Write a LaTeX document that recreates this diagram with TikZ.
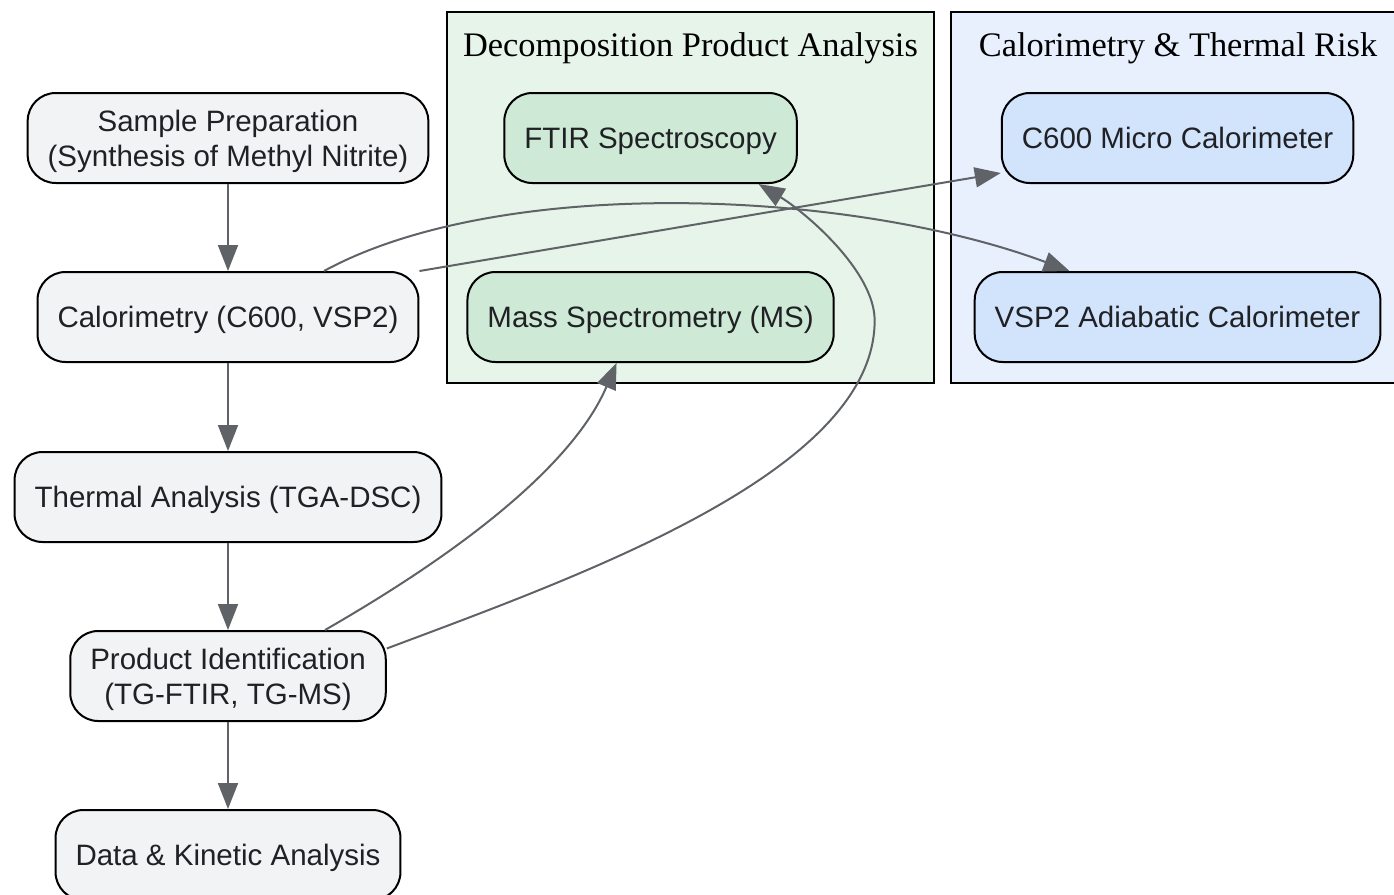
\documentclass[tikz,border=0pt]{standalone}
\usepackage{fontspec}
\setmainfont{Liberation Serif}
\newfontfamily\boxfont{Liberation Sans}
\usepackage{xcolor}
\usepackage{tikz}
\usetikzlibrary{positioning}
\usetikzlibrary{fit}
\usetikzlibrary{backgrounds}
\usetikzlibrary{arrows.meta}

\definecolor{ink}{HTML}{202124}
\definecolor{edgegray}{HTML}{5F6368}
\definecolor{stepfill}{HTML}{F1F3F4}
\definecolor{greenbg}{HTML}{E6F4EA}
\definecolor{greenfill}{HTML}{CEEAD6}
\definecolor{bluebg}{HTML}{E8F0FE}
\definecolor{bluefill}{HTML}{D2E3FC}
\newcommand{\linelift}{\rule{0pt}{13.75pt}}

\begin{document}
\begin{tikzpicture}[x=0.5pt, y=-0.5pt,
						node distance = 43.5pt,
						box/.style={draw, line width=1pt, rounded corners=14pt,
							fill=stepfill, text=ink, align=center,
							font=\boxfont\fontsize{14.75pt}{17.5pt}\selectfont,
							inner xsep=10pt, minimum height=45pt},
						oneline/.style={box, text height=13.6pt, text depth=3.1pt},
						title/.style={inner sep=0pt, anchor=base, text=black,
							font=\fontsize{17.2pt}{20pt}\selectfont},
						cluster/.style={draw, line width=1pt, inner xsep=8pt, inner ysep=10pt},
						flow/.style={draw=edgegray, line width=1pt,
							-{Triangle[length=13pt, width=10pt]}}]
		\useasboundingbox (0,0) rectangle (1394,895);
		\node [box] (sample) at (228,138) {\linelift Sample Preparation\\(Synthesis of Methyl Nitrite)};
		\node [oneline, below=of sample] (calor) {Calorimetry (C600, VSP2)};
		\node [oneline, below=44pt of calor] (thermal) {Thermal Analysis (TGA-DSC)};
		\node [box, below=of thermal] (prodid) {\linelift Product Identification\\(TG-FTIR, TG-MS)};
		\node [oneline, below=of prodid] (data) {Data \& Kinetic Analysis};
		\node [oneline, fill=greenfill, right=37pt of sample] (ftir) {FTIR Spectroscopy};
		\node [oneline, fill=greenfill, below=of ftir] (ms) {Mass Spectrometry (MS)};
		\node [oneline, fill=bluefill, right=101.5pt of ftir] (c600) {C600 Micro Calorimeter};
		\node [oneline, fill=bluefill, below=of c600] (vsp2) {VSP2 Adiabatic Calorimeter};
		\node [title] (decomptitle) at (690.5,56) {Decomposition Product Analysis};
		\node [title] (risktitle) at (1178,56) {Calorimetry \& Thermal Risk};
		\begin{scope}[on background layer]
			\node [cluster, fill=greenbg, fit=(decomptitle) (ftir) (ms)] (decomp) {};
			\node [cluster, fill=bluebg, inner xsep=11.5pt, fit=(risktitle) (c600) (vsp2)] (risk) {};
		\end{scope}
		\coordinate (bend) at ([xshift=20pt, yshift=-1.75pt]ms.east);
		\path
			(sample) edge [flow] (calor)
			(calor) edge [flow] (thermal)
			(thermal) edge [flow] (prodid)
			(prodid) edge [flow] (data)
			(calor.north east) edge [flow] ([yshift=5.5pt]c600.south west);
		\draw [flow] ([xshift=48pt]calor.north)
			.. controls +(176,-96) and +(-220,-82) .. ([xshift=-54pt]vsp2.north);
		\draw [flow] ([xshift=48.5pt]prodid.north)
			.. controls +(155,-89) and +(-40,94) .. ([xshift=-17pt]ms.south);
		\draw [flow] ([yshift=13.75pt]prodid.east)
			.. controls +(200,-75) and +(0,150) .. (bend)
			.. controls +(0,-50) and +(45,27) .. ([xshift=54pt]ftir.south);
	\end{tikzpicture}
\end{document}
